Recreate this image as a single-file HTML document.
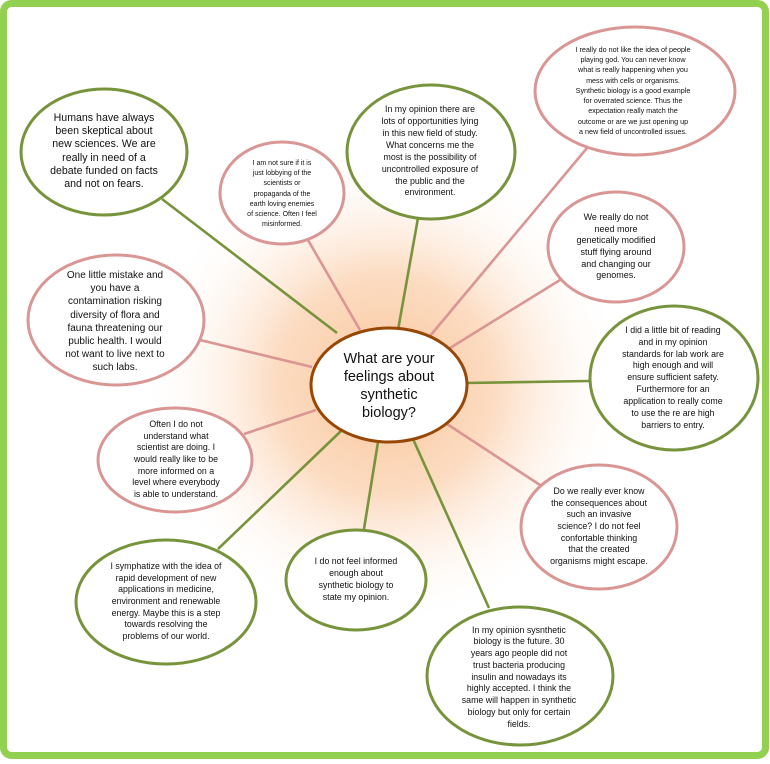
<!DOCTYPE html>
<html><head><meta charset="utf-8"><style>
html,body{margin:0;padding:0;background:#fff;}
svg{display:block;}
text{font-family:"Liberation Sans",sans-serif;fill:#111;text-anchor:middle;}
</style></head><body>
<svg width="770" height="764" viewBox="0 0 770 764" xmlns="http://www.w3.org/2000/svg">
<defs>
<radialGradient id="g" cx="385" cy="385" r="245" gradientUnits="userSpaceOnUse">
<stop offset="0" stop-color="#f9c69c"/>
<stop offset="0.45" stop-color="#fcdcc2"/>
<stop offset="1" stop-color="#ffffff" stop-opacity="0"/>
</radialGradient>
</defs>
<rect x="0" y="0" width="770" height="764" fill="#fff"/>
<rect x="3.5" y="3.5" width="762" height="752" rx="8" fill="url(#g)" stroke="#92d050" stroke-width="7"/>
<g stroke-width="2.6" fill="none">
<line x1="162" y1="199" x2="337" y2="333" stroke="#77933c"/>
<line x1="308" y1="240" x2="360" y2="330" stroke="#d99694"/>
<line x1="418" y1="218" x2="398" y2="330" stroke="#77933c"/>
<line x1="587" y1="148" x2="430" y2="336" stroke="#d99694"/>
<line x1="560" y1="280" x2="450" y2="348" stroke="#d99694"/>
<line x1="590" y1="381" x2="466" y2="383" stroke="#77933c"/>
<line x1="200" y1="340" x2="312" y2="367" stroke="#d99694"/>
<line x1="244" y1="434" x2="316" y2="410" stroke="#d99694"/>
<line x1="218" y1="549" x2="341" y2="431" stroke="#77933c"/>
<line x1="364" y1="529" x2="378" y2="442" stroke="#77933c"/>
<line x1="540" y1="485" x2="447" y2="424" stroke="#d99694"/>
<line x1="489" y1="608" x2="413" y2="439" stroke="#77933c"/>
</g>
<g fill="#fff" stroke-width="3">
<ellipse cx="104" cy="152" rx="83" ry="63" stroke="#77933c"/>
<ellipse cx="282" cy="193" rx="62" ry="51" stroke="#d99694"/>
<ellipse cx="431" cy="152" rx="84" ry="67" stroke="#77933c"/>
<ellipse cx="635" cy="91" rx="100" ry="64" stroke="#d99694"/>
<ellipse cx="616" cy="247" rx="68" ry="55" stroke="#d99694"/>
<ellipse cx="674" cy="378" rx="84" ry="72" stroke="#77933c"/>
<ellipse cx="116" cy="320" rx="88" ry="65" stroke="#d99694"/>
<ellipse cx="175" cy="460" rx="77" ry="52" stroke="#d99694"/>
<ellipse cx="166" cy="602" rx="90" ry="62" stroke="#77933c"/>
<ellipse cx="356" cy="580" rx="70" ry="50" stroke="#77933c"/>
<ellipse cx="599" cy="527" rx="78" ry="62" stroke="#d99694"/>
<ellipse cx="520" cy="676" rx="93" ry="69" stroke="#77933c"/>
<ellipse cx="389" cy="385" rx="78" ry="57" stroke="#984806"/>
</g>
<g font-size="10.6">
<text x="104" y="121">Humans have always</text>
<text x="104" y="134">been skeptical about</text>
<text x="104" y="147">new sciences. We are</text>
<text x="104" y="161">really in need of a</text>
<text x="104" y="174">debate funded on facts</text>
<text x="104" y="187">and not on fears.</text>
</g>
<g font-size="7">
<text x="282" y="165">I am  not sure if it is</text>
<text x="282" y="175">just lobbying of the</text>
<text x="282" y="185">scientists or</text>
<text x="282" y="196">propaganda  of the</text>
<text x="282" y="206">earth  loving enemies</text>
<text x="282" y="216">of science. Often I feel</text>
<text x="282" y="226">misinformed.</text>
</g>
<g font-size="8.8">
<text x="430" y="112">In my opinion there are</text>
<text x="430" y="124">lots of opportunities lying</text>
<text x="430" y="136">in this new field of study.</text>
<text x="430" y="148">What concerns me the</text>
<text x="430" y="160">most is the possibility of</text>
<text x="430" y="172">uncontrolled exposure of</text>
<text x="430" y="184">the public and the</text>
<text x="430" y="195">environment.</text>
</g>
<g font-size="7.2">
<text x="633" y="52">I really  do not like  the idea of people</text>
<text x="633" y="62">playing god. You can never  know</text>
<text x="633" y="72">what is really  happening when  you</text>
<text x="633" y="83">mess  with cells  or organisms.</text>
<text x="633" y="93">Synthetic biology is a good example</text>
<text x="633" y="103">for overrated  science. Thus the</text>
<text x="633" y="113">expectation  really  match  the</text>
<text x="633" y="124">outcome or are  we just opening up</text>
<text x="633" y="134">a new field of uncontrolled issues.</text>
</g>
<g font-size="9">
<text x="616" y="220">We really do not</text>
<text x="616" y="232">need more</text>
<text x="616" y="243">genetically modified</text>
<text x="616" y="255">stuff flying around</text>
<text x="616" y="267">and changing our</text>
<text x="616" y="278">genomes.</text>
</g>
<g font-size="8.8">
<text x="673" y="333">I did a little bit of reading</text>
<text x="673" y="345">and in my opinion</text>
<text x="673" y="357">standards for lab work are</text>
<text x="673" y="368">high enough and will</text>
<text x="673" y="380">ensure sufficient safety.</text>
<text x="673" y="392">Furthermore for an</text>
<text x="673" y="404">application to really come</text>
<text x="673" y="416">to use the re are high</text>
<text x="673" y="428">barriers to entry.</text>
</g>
<g font-size="14.5" fill="#222">
<text x="389" y="363">What are your</text>
<text x="389" y="381">feelings about</text>
<text x="389" y="399">synthetic</text>
<text x="389" y="417">biology?</text>
</g>
<g font-size="10">
<text x="115" y="278">One little mistake and</text>
<text x="115" y="291">you have a</text>
<text x="115" y="304">contamination risking</text>
<text x="115" y="318">diversity of flora and</text>
<text x="115" y="331">fauna threatening our</text>
<text x="115" y="344">public health. I would</text>
<text x="115" y="357">not want to live next to</text>
<text x="115" y="370">such labs.</text>
</g>
<g font-size="8.8">
<text x="176" y="427">Often I do not</text>
<text x="176" y="439">understand what</text>
<text x="176" y="450">scientist are doing. I</text>
<text x="176" y="462">would really like to be</text>
<text x="176" y="474">more informed on a</text>
<text x="176" y="485">level where everybody</text>
<text x="176" y="497">is able to understand.</text>
</g>
<g font-size="8.8">
<text x="166" y="569">I symphatize with the idea of</text>
<text x="166" y="581">rapid development of new</text>
<text x="166" y="592">applications in medicine,</text>
<text x="166" y="604">environment and renewable</text>
<text x="166" y="616">energy. Maybe this is a step</text>
<text x="166" y="627">towards resolving the</text>
<text x="166" y="639">problems of our world.</text>
</g>
<g font-size="8.8">
<text x="356" y="564">I do not feel informed</text>
<text x="356" y="576">enough about</text>
<text x="356" y="588">synthetic biology to</text>
<text x="356" y="600">state my opinion.</text>
</g>
<g font-size="8.8">
<text x="599" y="494">Do we really ever know</text>
<text x="599" y="506">the consequences about</text>
<text x="599" y="517">such an invasive</text>
<text x="599" y="529">science? I do not feel</text>
<text x="599" y="541">confortable thinking</text>
<text x="599" y="552">that the created</text>
<text x="599" y="564">organisms might escape.</text>
</g>
<g font-size="8.8">
<text x="519" y="633">In my opinion sysnthetic</text>
<text x="519" y="644">biology is the future.  30</text>
<text x="519" y="656">years ago people did not</text>
<text x="519" y="668">trust bacteria producing</text>
<text x="519" y="680">insulin and nowadays its</text>
<text x="519" y="691">highly accepted. I think the</text>
<text x="519" y="703">same will happen in synthetic</text>
<text x="519" y="715">biology but only for certain</text>
<text x="519" y="727">fields.</text>
</g>
</svg>
</body></html>
